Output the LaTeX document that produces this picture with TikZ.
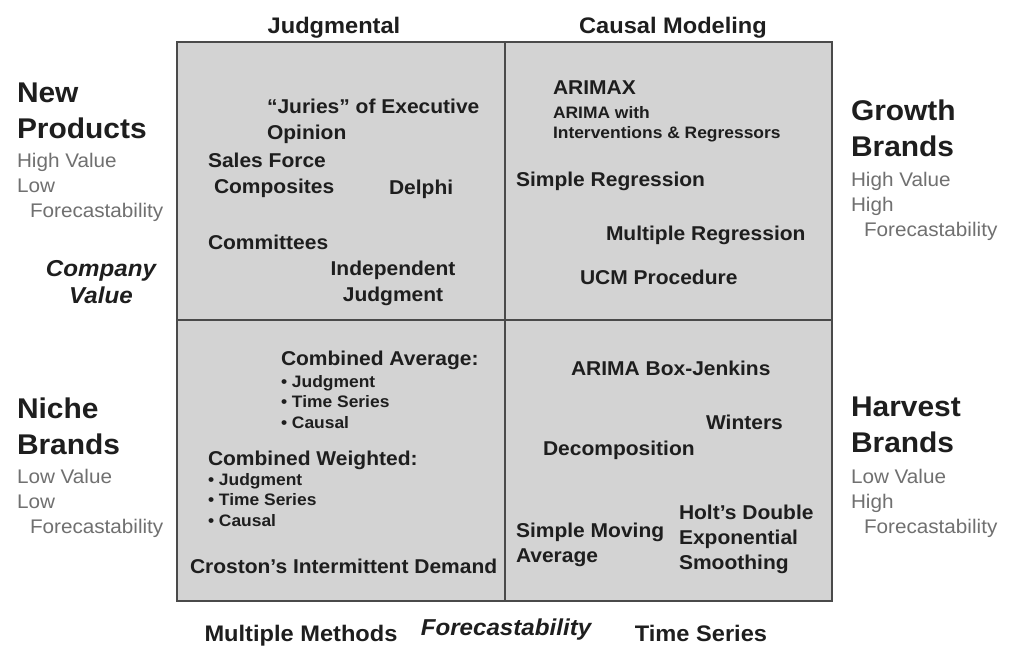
\documentclass[tikz,border=0pt]{standalone}
\usepackage{fontspec}
\setmainfont{Liberation Sans}[FakeStretch=1.05]
\definecolor{boxfill}{HTML}{D3D3D3}
\definecolor{boxline}{HTML}{4A4A4A}
\definecolor{txt}{HTML}{1E1E1E}
\definecolor{graytxt}{HTML}{707070}
\tikzset{
  base/.style={inner sep=0pt, outer sep=0pt, anchor=north west, align=left, text=txt},
  item/.style={base, font=\bfseries\fontsize{20}{26}\selectfont},
  small/.style={base, font=\bfseries\fontsize{16.6}{20.5}\selectfont},
  head/.style={base, anchor=north, align=center, font=\bfseries\fontsize{22.5}{26}\selectfont},
  axis/.style={base, anchor=north, align=center, font=\bfseries\itshape\fontsize{23}{27}\selectfont},
  side/.style={base, font=\bfseries\fontsize{28.5}{36}\selectfont},
  grayt/.style={base, text=graytxt, font=\fontsize{19.7}{25}\selectfont},
  frame/.style={draw=boxline, line width=2pt, fill=boxfill},
  divider/.style={draw=boxline, line width=2pt}
}
\begin{document}
\begin{tikzpicture}[x=1pt,y=-1pt]
\useasboundingbox[fill=white] (0,0) rectangle (1010,648);
% quadrant frame
\coordinate (tl) at (177,42);
\coordinate (br) at (832,601);
\coordinate (vt) at (505,42);
\coordinate (vb) at (505,601);
\coordinate (hl) at (177,320);
\coordinate (hr) at (832,320);
\path[frame] (tl) rectangle (br);
\path[divider] (vt) -- (vb);
\path[divider] (hl) -- (hr);

% column headers
\node[head] (judg) at (334,17) {Judgmental};
\node[head] (causal) at (673,17) {Causal Modeling};
% footer
\node[head] (multi) at (301,625) {Multiple Methods};
\node[axis] (fcast) at (506,619) {Forecastability};
\node[head] (tseries) at (701,625) {Time Series};

% left labels
\node[side] (newp) at (17,83) {New\\Products};
\node[grayt] (newpg) at (17,153) {High Value\\Low\\\hspace*{13pt}Forecastability};
\node[axis] (compv) at (101,260) {Company\\Value};
\node[side] (niche) at (17,398) {Niche\\Brands};
\node[grayt] (nicheg) at (17,469) {Low Value\\Low\\\hspace*{13pt}Forecastability};

% right labels
\node[side] (growth) at (851,100) {Growth\\Brands};
\node[grayt] (growthg) at (851,172) {High Value\\High\\\hspace*{13pt}Forecastability};
\node[side] (harvest) at (851,397) {Harvest\\Brands};
\node[grayt] (harvestg) at (851,469) {Low Value\\High\\\hspace*{13pt}Forecastability};

% top-left quadrant
\node[item] (juries) at (267,99) {“Juries” of Executive\\Opinion};
\node[item] (sales) at (208,153) {Sales Force\\\hspace*{6pt}Composites};
\node[item] (delphi) at (389,180) {Delphi};
\node[item] (committees) at (208,235) {Committees};
\node[item, anchor=north, align=center] (indep) at (393,261) {Independent\\Judgment};

% top-right quadrant
\node[item] (arimax) at (553,81) {ARIMAX};
\node[small] (arimaw) at (553,106) {ARIMA with\\Interventions \& Regressors};
\node[item] (sreg) at (516,172) {Simple Regression};
\node[item] (mreg) at (606,226) {Multiple Regression};
\node[item] (ucm) at (580,270) {UCM Procedure};

% bottom-left quadrant
\node[item] (cavg) at (281,351) {Combined Average:};
\node[small] (cavgl) at (281,375) {• Judgment\\• Time Series\\• Causal};
\node[item] (cw) at (208,451) {Combined Weighted:};
\node[small] (cwl) at (208,473) {• Judgment\\• Time Series\\• Causal};
\node[item] (croston) at (190,559) {Croston’s Intermittent Demand};

% bottom-right quadrant
\node[item] (boxj) at (571,361) {ARIMA Box-Jenkins};
\node[item] (winters) at (706,415) {Winters};
\node[item] (decomp) at (543,441) {Decomposition};
\node[item, font=\bfseries\fontsize{20}{25}\selectfont] (holt) at (679,505) {Holt’s Double\\Exponential\\Smoothing};
\node[item, font=\bfseries\fontsize{20}{25}\selectfont] (sma) at (516,523) {Simple Moving\\Average};
\end{tikzpicture}
\end{document}
